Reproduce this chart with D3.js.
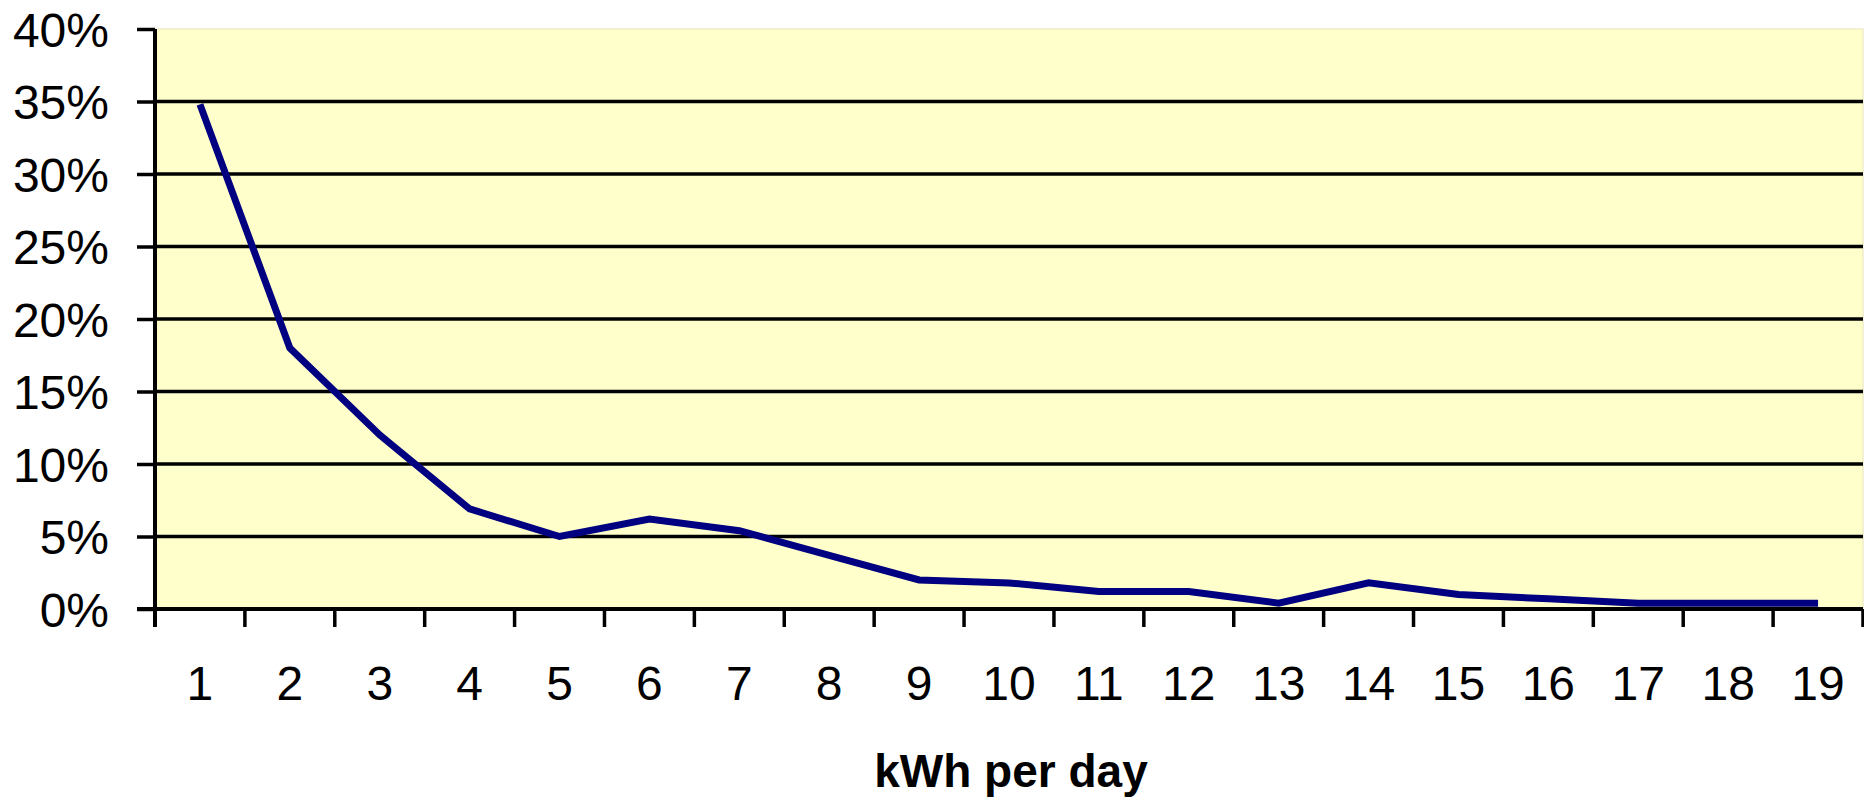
<!DOCTYPE html>
<html>
<head>
<meta charset="utf-8">
<script src="https://cdn.jsdelivr.net/npm/d3@7"></script>
<style>
  html, body { margin: 0; padding: 0; background: #ffffff; }
  svg { display: block; font-family: "Liberation Sans", Arial, sans-serif; }
</style>
</head>
<body>
<svg id="chart" width="1864" height="798"></svg>
<script>
// ---- data ----
const categories = ["1","2","3","4","5","6","7","8","9","10","11","12","13","14","15","16","17","18","19"];
const shares = [34.8, 18.0, 12.0, 6.9, 5.0, 6.2, 5.4, 3.7, 2.0, 1.8, 1.2, 1.2, 0.4, 1.8, 1.0, 0.7, 0.4, 0.4, 0.4];
const yTicks = [0, 5, 10, 15, 20, 25, 30, 35, 40];
const xTitle = "kWh per day";

// ---- layout ----
const plotLeft = 155, plotRight = 1863, plotTop = 29, plotBottom = 609;

const svg = d3.select("#chart");

const x = d3.scaleBand().domain(categories).range([plotLeft, plotRight]).paddingInner(0).paddingOuter(0);
const y = d3.scaleLinear().domain([0, 40]).range([plotBottom, plotTop]);

// plot background
svg.append("rect")
  .attr("x", plotLeft).attr("y", plotTop)
  .attr("width", plotRight - plotLeft).attr("height", plotBottom - plotTop)
  .attr("fill", "#FFFFCC")
  .attr("stroke", "#e4e4b8").attr("stroke-width", 1);

// gridlines
svg.append("g").selectAll("line")
  .data(yTicks.filter(d => d > 0 && d < 40))
  .join("line")
  .attr("x1", plotLeft).attr("x2", plotRight)
  .attr("y1", d => y(d)).attr("y2", d => y(d))
  .attr("stroke", "#000").attr("stroke-width", 3.5);

// y axis
const yAxis = svg.append("g").attr("transform", `translate(${plotLeft},0)`)
  .call(d3.axisLeft(y).tickValues(yTicks).tickFormat(d => d + "%").tickSize(18).tickPadding(28));
yAxis.select(".domain").remove();
yAxis.selectAll(".tick line").attr("stroke", "#000").attr("stroke-width", 3.5);
yAxis.selectAll(".tick text")
  .attr("font-size", 48).attr("fill", "#000")
  .attr("font-family", "'Liberation Sans', Arial, sans-serif")
  .attr("dy", "0.36em");

// x axis
const boundaries = categories.map(c => x(c)).concat([plotRight]);
const xAxis = svg.append("g").attr("transform", `translate(0,${plotBottom})`);
xAxis.selectAll("line.tk").data(boundaries).join("line")
  .attr("class", "tk")
  .attr("x1", d => d).attr("x2", d => d)
  .attr("y1", 0).attr("y2", 18)
  .attr("stroke", "#000").attr("stroke-width", 3.5);
xAxis.selectAll("text").data(categories).join("text")
  .attr("x", d => x(d) + x.bandwidth() / 2)
  .attr("y", 91)
  .attr("text-anchor", "middle")
  .attr("font-size", 48)
  .attr("fill", "#000")
  .text(d => d);

// axis lines
svg.append("line")
  .attr("x1", plotLeft - 18).attr("x2", plotRight)
  .attr("y1", plotBottom).attr("y2", plotBottom)
  .attr("stroke", "#000").attr("stroke-width", 4);
svg.append("line")
  .attr("x1", plotLeft).attr("x2", plotLeft)
  .attr("y1", plotTop).attr("y2", plotBottom + 18)
  .attr("stroke", "#000").attr("stroke-width", 4);

// data line
const line = d3.line()
  .x((d, i) => x(categories[i]) + x.bandwidth() / 2)
  .y(d => y(d));
svg.append("path")
  .datum(shares)
  .attr("d", line)
  .attr("fill", "none")
  .attr("stroke", "#000080")
  .attr("stroke-width", 7)
  .attr("stroke-linejoin", "miter");

// x title
svg.append("text")
  .attr("x", 1011).attr("y", 787)
  .attr("text-anchor", "middle")
  .attr("font-size", 46)
  .attr("font-weight", "bold")
  .attr("fill", "#000")
  .text(xTitle);
</script>
</body>
</html>
